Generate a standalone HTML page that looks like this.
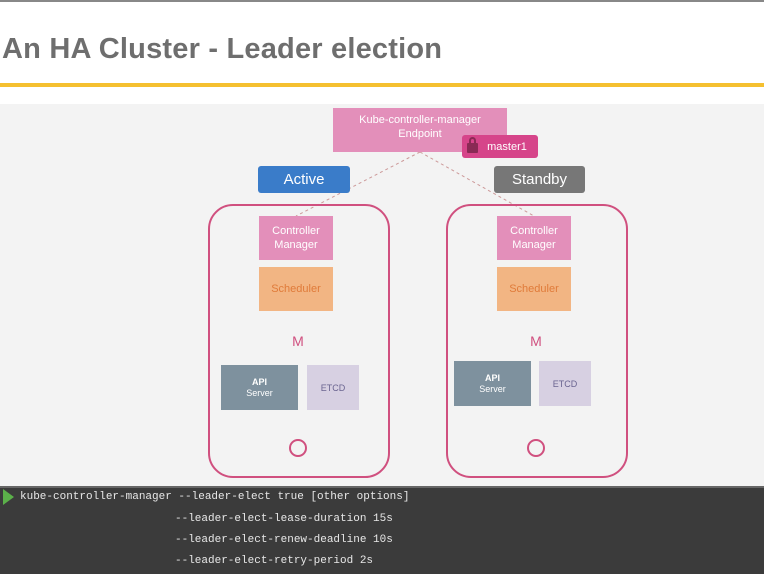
<!DOCTYPE html>
<html><head><style>
body{margin:0;width:764px;height:575px;overflow:hidden;background:#fff;font-family:"Liberation Sans",sans-serif;position:relative}
.a{position:absolute;box-sizing:border-box}
.c{display:flex;align-items:center;justify-content:center;text-align:center}
.mono{font-family:"Liberation Mono",monospace;color:#e8e8e8;font-size:11px;position:absolute}
</style></head><body>
<div class="a" style="left:0;top:0;width:764px;height:2px;background:#888"></div>
<div class="a" style="left:2px;top:33px;font-size:29px;color:#6e6e6e;letter-spacing:0.2px;font-weight:bold">An HA Cluster - Leader election</div>
<div class="a" style="left:0;top:83px;width:764px;height:4px;background:#f5c030"></div>
<div class="a" style="left:0;top:104px;width:764px;height:382px;background:#f3f3f3"></div>
<svg class="a" style="left:0;top:0" width="764" height="575">
<line x1="420" y1="152" x2="296" y2="216" stroke="#c99" stroke-dasharray="3,3"/>
<line x1="420" y1="152" x2="534" y2="216" stroke="#c99" stroke-dasharray="3,3"/>
<rect x="209" y="205" width="180" height="272" rx="24" fill="none" stroke="#d0507f" stroke-width="2"/>
<rect x="447" y="205" width="180" height="272" rx="24" fill="none" stroke="#d0507f" stroke-width="2"/>
<circle cx="298" cy="448" r="8" fill="none" stroke="#d0507f" stroke-width="2"/>
<circle cx="536" cy="448" r="8" fill="none" stroke="#d0507f" stroke-width="2"/>
</svg>
<div class="a c" style="left:333px;top:108px;width:174px;height:44px;background:#e38fba;color:#fff;font-size:11px;line-height:14px;padding-bottom:6px">Kube-controller-manager<br>Endpoint</div>
<div class="a c" style="left:462px;top:135px;width:76px;height:23px;background:#d6458a;color:#fff;font-size:11px;border-radius:3px;padding-left:14px">master1</div>
<div class="a" style="left:467px;top:143px;width:11px;height:10px;background:#8a2a55;border-radius:1px"></div>
<div class="a" style="left:469px;top:137px;width:7px;height:8px;border:2px solid #8a2a55;border-bottom:none;border-radius:4px 4px 0 0"></div>
<div class="a c" style="left:258px;top:166px;width:92px;height:27px;background:#3a7cc9;color:#fff;font-size:15px;border-radius:3px">Active</div>
<div class="a c" style="left:494px;top:166px;width:91px;height:27px;background:#777;color:#fff;font-size:15px;border-radius:3px">Standby</div>

<div class="a c" style="left:259px;top:216px;width:74px;height:44px;background:#e38fba;color:#fff;font-size:11px;line-height:14px">Controller<br>Manager</div>
<div class="a c" style="left:259px;top:267px;width:74px;height:44px;background:#f2b583;color:#e07b3a;font-size:11px">Scheduler</div>
<div class="a c" style="left:278px;top:331px;width:40px;height:20px;color:#d0507f;font-size:14px">M</div>
<div class="a c" style="left:221px;top:365px;width:77px;height:45px;background:#7e919e;color:#fff;font-size:9px;line-height:11px"><span><b>API</b><br>Server</span></div>
<div class="a c" style="left:307px;top:365px;width:52px;height:45px;background:#d7d0e2;color:#6a6490;font-size:9px">ETCD</div>

<div class="a c" style="left:497px;top:216px;width:74px;height:44px;background:#e38fba;color:#fff;font-size:11px;line-height:14px">Controller<br>Manager</div>
<div class="a c" style="left:497px;top:267px;width:74px;height:44px;background:#f2b583;color:#e07b3a;font-size:11px">Scheduler</div>
<div class="a c" style="left:516px;top:331px;width:40px;height:20px;color:#d0507f;font-size:14px">M</div>
<div class="a c" style="left:454px;top:361px;width:77px;height:45px;background:#7e919e;color:#fff;font-size:9px;line-height:11px"><span><b>API</b><br>Server</span></div>
<div class="a c" style="left:539px;top:361px;width:52px;height:45px;background:#d7d0e2;color:#6a6490;font-size:9px">ETCD</div>

<div class="a" style="left:0;top:486px;width:764px;height:88px;background:#3b3b3b;border-top:2px solid #666"></div>
<div class="a" style="left:3px;top:489px;width:0;height:0;border-top:8px solid transparent;border-bottom:8px solid transparent;border-left:11px solid #5bb04a"></div>
<div class="mono" style="left:20px;top:491px">kube-controller-manager --leader-elect true  [other options]</div>
<div class="mono" style="left:175px;top:513px">--leader-elect-lease-duration 15s</div>
<div class="mono" style="left:175px;top:534px">--leader-elect-renew-deadline 10s</div>
<div class="mono" style="left:175px;top:555px">--leader-elect-retry-period 2s</div>
</body></html>
